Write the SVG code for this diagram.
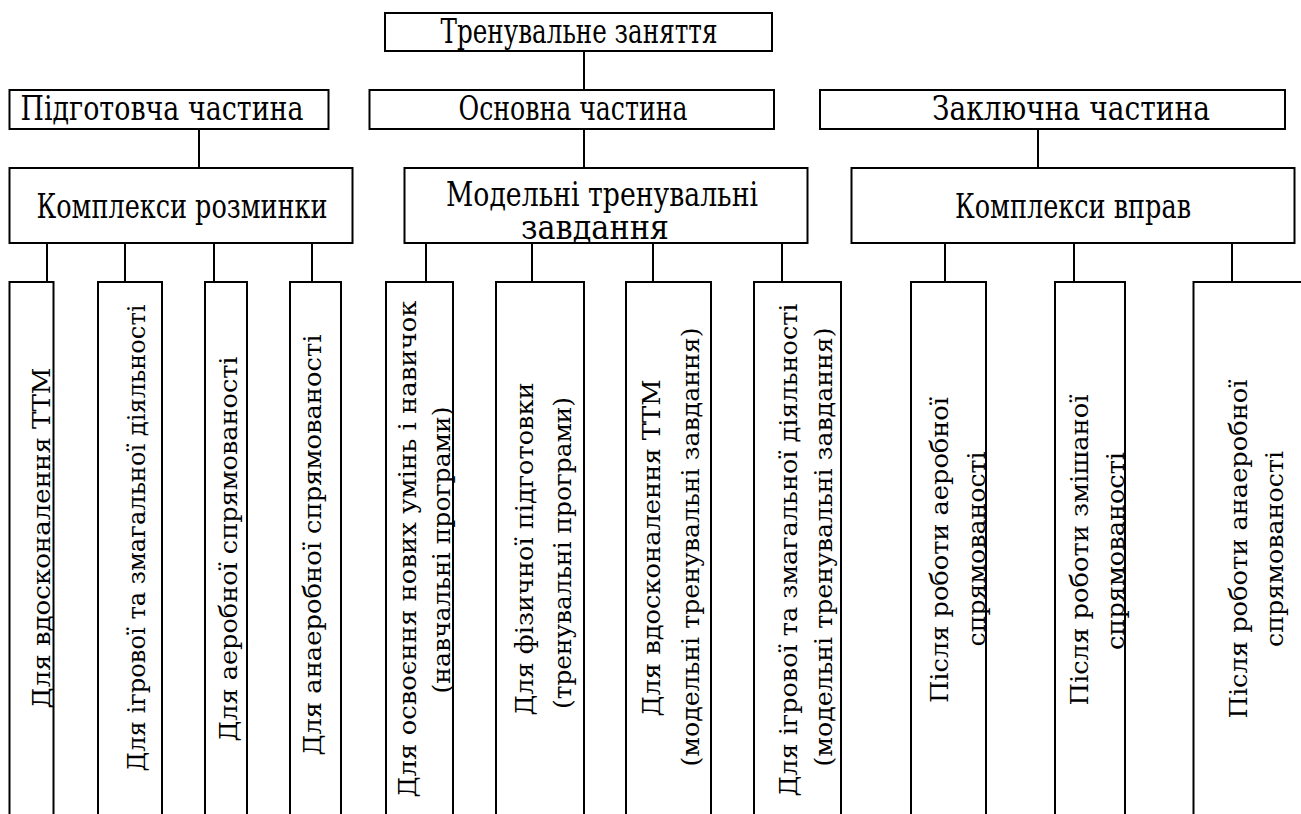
<svg xmlns="http://www.w3.org/2000/svg" width="1301" height="814" viewBox="0 0 1301 814">
<style>
  .box { fill: #ffffff; stroke: #000000; stroke-width: 2; }
  .ln { stroke: #000000; stroke-width: 2; fill: none; }
  .h { font-size: 33px; text-anchor: middle; fill: #000000; }
  .v { font-size: 25px; text-anchor: middle; fill: #000000; }
</style>
<rect x="0" y="0" width="1301" height="814" fill="#ffffff"/>
<g id="connectors">
  <line class="ln" x1="584" y1="51" x2="584" y2="90"/>
  <line class="ln" x1="199" y1="129" x2="199" y2="168"/>
  <line class="ln" x1="584" y1="129" x2="584" y2="168"/>
  <line class="ln" x1="1038" y1="129" x2="1038" y2="168"/>
  <line class="ln" x1="47" y1="243" x2="47" y2="282"/>
  <line class="ln" x1="125" y1="243" x2="125" y2="282"/>
  <line class="ln" x1="214" y1="243" x2="214" y2="282"/>
  <line class="ln" x1="312" y1="243" x2="312" y2="282"/>
  <line class="ln" x1="426" y1="243" x2="426" y2="282"/>
  <line class="ln" x1="532" y1="243" x2="532" y2="282"/>
  <line class="ln" x1="653" y1="243" x2="653" y2="282"/>
  <line class="ln" x1="782" y1="243" x2="782" y2="282"/>
  <line class="ln" x1="945" y1="243" x2="945" y2="282"/>
  <line class="ln" x1="1074" y1="243" x2="1074" y2="282"/>
  <line class="ln" x1="1232" y1="243" x2="1232" y2="282"/>
</g>
<g id="n-top">
  <rect class="box" x="385" y="13" width="387" height="38"/>
  <text class="h" font-family="DejaVu Serif" x="579" y="43" textLength="277" lengthAdjust="spacingAndGlyphs">Тренувальне заняття</text>
</g>
<g id="n-pidgotovcha">
  <rect class="box" x="9.5" y="90" width="319" height="39"/>
  <text class="h" font-family="DejaVu Serif" x="162" y="120" textLength="283" lengthAdjust="spacingAndGlyphs">Підготовча частина</text>
</g>
<g id="n-osnovna">
  <rect class="box" x="369.5" y="90" width="404.5" height="39"/>
  <text class="h" font-family="DejaVu Serif" x="573" y="120" textLength="229" lengthAdjust="spacingAndGlyphs">Основна частина</text>
</g>
<g id="n-zakliuchna">
  <rect class="box" x="820" y="90" width="465" height="39"/>
  <text class="h" font-family="DejaVu Serif" x="1071" y="120" textLength="278" lengthAdjust="spacingAndGlyphs">Заключна частина</text>
</g>
<g id="n-rozminka">
  <rect class="box" x="9.5" y="168" width="343" height="75"/>
  <text class="h" font-family="DejaVu Serif" x="182" y="218" textLength="291" lengthAdjust="spacingAndGlyphs">Комплекси розминки</text>
</g>
<g id="n-modelni">
  <rect class="box" x="404.5" y="168" width="403" height="75"/>
  <text class="h" font-family="DejaVu Serif" x="602" y="206" textLength="312" lengthAdjust="spacingAndGlyphs">Модельні тренувальні</text>
  <text class="h" font-family="DejaVu Serif" x="595" y="239" textLength="148" lengthAdjust="spacingAndGlyphs">завдання</text>
</g>
<g id="n-vprav">
  <rect class="box" x="851.5" y="168" width="443" height="75"/>
  <text class="h" font-family="DejaVu Serif" x="1073" y="218" textLength="236" lengthAdjust="spacingAndGlyphs">Комплекси вправ</text>
</g>
<g id="n-r1">
  <rect class="box" x="9.5" y="282" width="44" height="545"/>
  <text class="v" font-family="DejaVu Serif" transform="translate(50,538) rotate(-90)" textLength="341" lengthAdjust="spacingAndGlyphs">Для вдосконалення ТТМ</text>
</g>
<g id="n-r2">
  <rect class="box" x="98" y="282" width="64" height="545"/>
  <text class="v" font-family="DejaVu Serif" transform="translate(145,538) rotate(-90)" textLength="467" lengthAdjust="spacingAndGlyphs">Для ігрової та змагальної діяльності</text>
</g>
<g id="n-r3">
  <rect class="box" x="205" y="282" width="42" height="545"/>
  <text class="v" font-family="DejaVu Serif" transform="translate(237,549) rotate(-90)" textLength="385" lengthAdjust="spacingAndGlyphs">Для аеробної спрямованості</text>
</g>
<g id="n-r4">
  <rect class="box" x="290" y="282" width="51" height="545"/>
  <text class="v" font-family="DejaVu Serif" transform="translate(321,545) rotate(-90)" textLength="421" lengthAdjust="spacingAndGlyphs">Для анаеробної спрямованості</text>
</g>
<g id="n-m1">
  <rect class="box" x="386" y="282" width="67" height="545"/>
  <text class="v" font-family="DejaVu Serif" transform="translate(416,549) rotate(-90)" textLength="497" lengthAdjust="spacingAndGlyphs">Для освоєння нових умінь і навичок</text>
  <text class="v" font-family="DejaVu Serif" transform="translate(450,550) rotate(-90)" textLength="287" lengthAdjust="spacingAndGlyphs">(навчальні програми)</text>
</g>
<g id="n-m2">
  <rect class="box" x="496" y="282" width="88" height="545"/>
  <text class="v" font-family="DejaVu Serif" transform="translate(533,549) rotate(-90)" textLength="333" lengthAdjust="spacingAndGlyphs">Для фізичної підготовки</text>
  <text class="v" font-family="DejaVu Serif" transform="translate(571,553) rotate(-90)" textLength="312" lengthAdjust="spacingAndGlyphs">(тренувальні програми)</text>
</g>
<g id="n-m3">
  <rect class="box" x="626" y="282" width="85" height="545"/>
  <text class="v" font-family="DejaVu Serif" transform="translate(660,548) rotate(-90)" textLength="337" lengthAdjust="spacingAndGlyphs">Для вдосконалення ТТМ</text>
  <text class="v" font-family="DejaVu Serif" transform="translate(699,547) rotate(-90)" textLength="439" lengthAdjust="spacingAndGlyphs">(модельні тренувальні завдання)</text>
</g>
<g id="n-m4">
  <rect class="box" x="754" y="282" width="87" height="545"/>
  <text class="v" font-family="DejaVu Serif" transform="translate(797,550) rotate(-90)" textLength="493" lengthAdjust="spacingAndGlyphs">Для ігрової та змагальної діяльності</text>
  <text class="v" font-family="DejaVu Serif" transform="translate(832,547) rotate(-90)" textLength="439" lengthAdjust="spacingAndGlyphs">(модельні тренувальні завдання)</text>
</g>
<g id="n-z1">
  <rect class="box" x="911" y="282" width="75" height="545"/>
  <text class="v" font-family="DejaVu Serif" transform="translate(948,550) rotate(-90)" textLength="306" lengthAdjust="spacingAndGlyphs">Після роботи аеробної</text>
  <text class="v" font-family="DejaVu Serif" transform="translate(985,549) rotate(-90)" textLength="195" lengthAdjust="spacingAndGlyphs">спрямованості</text>
</g>
<g id="n-z2">
  <rect class="box" x="1055" y="282" width="70" height="545"/>
  <text class="v" font-family="DejaVu Serif" transform="translate(1088,550) rotate(-90)" textLength="311" lengthAdjust="spacingAndGlyphs">Після роботи змішаної</text>
  <text class="v" font-family="DejaVu Serif" transform="translate(1124,551) rotate(-90)" textLength="198" lengthAdjust="spacingAndGlyphs">спрямованості</text>
</g>
<g id="n-z3">
  <rect class="box" x="1193.5" y="282" width="120" height="545"/>
  <text class="v" font-family="DejaVu Serif" transform="translate(1247,549) rotate(-90)" textLength="339" lengthAdjust="spacingAndGlyphs">Після роботи анаеробної</text>
  <text class="v" font-family="DejaVu Serif" transform="translate(1283,549) rotate(-90)" textLength="196" lengthAdjust="spacingAndGlyphs">спрямованості</text>
</g>
</svg>
